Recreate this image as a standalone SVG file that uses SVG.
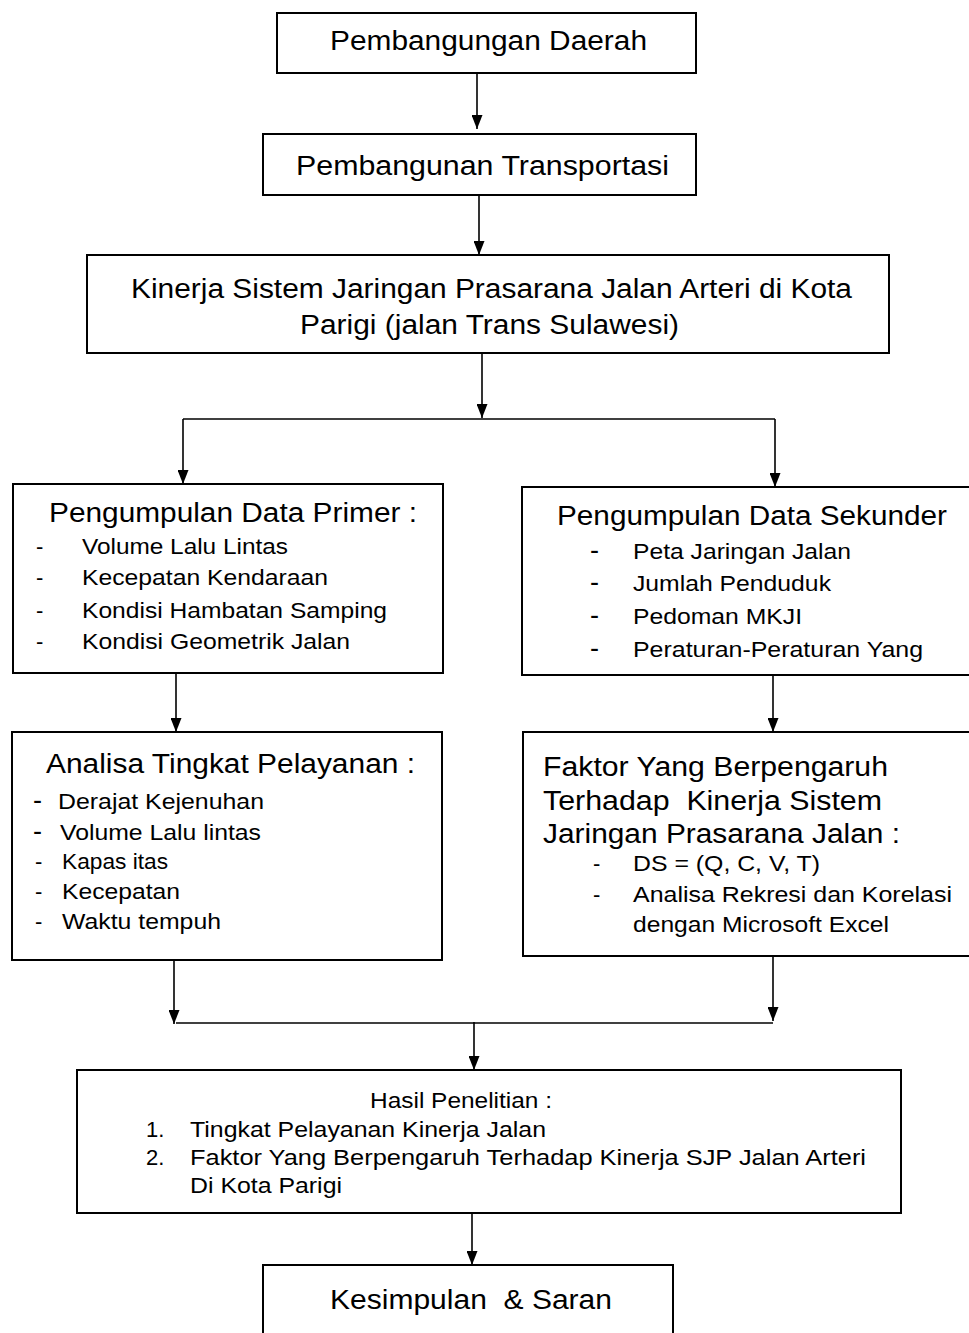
<svg xmlns="http://www.w3.org/2000/svg" width="969" height="1333" viewBox="0 0 969 1333">
<style>
  .box { fill: #ffffff; stroke: #000000; stroke-width: 2; }
  .con { fill: none; stroke: #000000; stroke-width: 1.6; }
  .t { font-family: "Liberation Sans", Arial, sans-serif; fill: #000000; }
  .big { font-size: 27px; }
  .sm { font-size: 22px; }
</style>
<defs>
  <marker id="arr" viewBox="0 0 14 11" markerWidth="14" markerHeight="11" refX="14" refY="5.5" orient="auto" markerUnits="userSpaceOnUse">
    <path d="M0,0 L14,5.5 L0,11 z" fill="#000000"/>
  </marker>
</defs>
<rect width="969" height="1333" fill="#ffffff"/>

<g id="connectors">
  <line class="con" x1="477" y1="73" x2="477" y2="129" marker-end="url(#arr)"/>
  <line class="con" x1="479" y1="195" x2="479" y2="255" marker-end="url(#arr)"/>
  <line class="con" x1="482" y1="353" x2="482" y2="418" marker-end="url(#arr)"/>
  <line class="con" x1="183" y1="419" x2="775" y2="419"/>
  <line class="con" x1="183" y1="419" x2="183" y2="484" marker-end="url(#arr)"/>
  <line class="con" x1="775" y1="419" x2="775" y2="487" marker-end="url(#arr)"/>
  <line class="con" x1="176" y1="673" x2="176" y2="732" marker-end="url(#arr)"/>
  <line class="con" x1="773" y1="675" x2="773" y2="732" marker-end="url(#arr)"/>
  <line class="con" x1="174" y1="960" x2="174" y2="1024" marker-end="url(#arr)"/>
  <line class="con" x1="773" y1="956" x2="773" y2="1021" marker-end="url(#arr)"/>
  <line class="con" x1="176" y1="1023" x2="773" y2="1023"/>
  <line class="con" x1="474" y1="1022" x2="474" y2="1070" marker-end="url(#arr)"/>
  <line class="con" x1="472" y1="1213" x2="472" y2="1265" marker-end="url(#arr)"/>
</g>

<g id="n1">
  <rect class="box" x="277" y="13" width="419" height="60"/>
  <text class="t big" x="330" y="50" textLength="317" lengthAdjust="spacingAndGlyphs">Pembangungan Daerah</text>
</g>

<g id="n2">
  <rect class="box" x="263" y="134" width="433" height="61"/>
  <text class="t big" x="296" y="175" textLength="373" lengthAdjust="spacingAndGlyphs">Pembangunan Transportasi</text>
</g>

<g id="n3">
  <rect class="box" x="87" y="255" width="802" height="98"/>
  <text class="t big" x="131" y="298" textLength="721" lengthAdjust="spacingAndGlyphs">Kinerja Sistem Jaringan Prasarana Jalan Arteri di Kota</text>
  <text class="t big" x="300" y="334" textLength="379" lengthAdjust="spacingAndGlyphs">Parigi (jalan Trans Sulawesi)</text>
</g>

<g id="n4">
  <rect class="box" x="13" y="484" width="430" height="189"/>
  <text class="t big" x="49" y="522" textLength="368" lengthAdjust="spacingAndGlyphs">Pengumpulan Data Primer :</text>
  <text class="t sm" x="36" y="554">-</text>
  <text class="t sm" x="82" y="554" textLength="206" lengthAdjust="spacingAndGlyphs">Volume Lalu Lintas</text>
  <text class="t sm" x="36" y="585">-</text>
  <text class="t sm" x="82" y="585" textLength="246" lengthAdjust="spacingAndGlyphs">Kecepatan Kendaraan</text>
  <text class="t sm" x="36" y="618">-</text>
  <text class="t sm" x="82" y="618" textLength="305" lengthAdjust="spacingAndGlyphs">Kondisi Hambatan Samping</text>
  <text class="t sm" x="36" y="649">-</text>
  <text class="t sm" x="82" y="649" textLength="268" lengthAdjust="spacingAndGlyphs">Kondisi Geometrik Jalan</text>
</g>

<g id="n5">
  <rect class="box" x="522" y="487" width="460" height="188"/>
  <text class="t big" x="557" y="525" textLength="390" lengthAdjust="spacingAndGlyphs">Pengumpulan Data Sekunder</text>
  <text class="t big" x="590" y="559">-</text>
  <text class="t sm" x="633" y="559" textLength="218" lengthAdjust="spacingAndGlyphs">Peta Jaringan Jalan</text>
  <text class="t big" x="590" y="591">-</text>
  <text class="t sm" x="633" y="591" textLength="198" lengthAdjust="spacingAndGlyphs">Jumlah Penduduk</text>
  <text class="t big" x="590" y="624">-</text>
  <text class="t sm" x="633" y="624" textLength="169" lengthAdjust="spacingAndGlyphs">Pedoman MKJI</text>
  <text class="t big" x="590" y="657">-</text>
  <text class="t sm" x="633" y="657" textLength="290" lengthAdjust="spacingAndGlyphs">Peraturan-Peraturan Yang</text>
</g>

<g id="n6">
  <rect class="box" x="12" y="732" width="430" height="228"/>
  <text class="t big" x="46" y="773" textLength="369" lengthAdjust="spacingAndGlyphs">Analisa Tingkat Pelayanan :</text>
  <text class="t big" x="33" y="809">-</text>
  <text class="t sm" x="58" y="809" textLength="206" lengthAdjust="spacingAndGlyphs">Derajat Kejenuhan</text>
  <text class="t big" x="33" y="840">-</text>
  <text class="t sm" x="60" y="840" textLength="201" lengthAdjust="spacingAndGlyphs">Volume Lalu lintas</text>
  <text class="t sm" x="35" y="869">-</text>
  <text class="t sm" x="62" y="869" textLength="106" lengthAdjust="spacingAndGlyphs">Kapas itas</text>
  <text class="t sm" x="35" y="899">-</text>
  <text class="t sm" x="62" y="899" textLength="118" lengthAdjust="spacingAndGlyphs">Kecepatan</text>
  <text class="t sm" x="35" y="929">-</text>
  <text class="t sm" x="62" y="929" textLength="159" lengthAdjust="spacingAndGlyphs">Waktu tempuh</text>
</g>

<g id="n7">
  <rect class="box" x="523" y="732" width="460" height="224"/>
  <text class="t big" x="543" y="776" textLength="345" lengthAdjust="spacingAndGlyphs">Faktor Yang Berpengaruh</text>
  <text class="t big" x="543" y="810" textLength="339" lengthAdjust="spacingAndGlyphs" xml:space="preserve">Terhadap  Kinerja Sistem</text>
  <text class="t big" x="543" y="843" textLength="357" lengthAdjust="spacingAndGlyphs">Jaringan Prasarana Jalan :</text>
  <text class="t sm" x="593" y="871">-</text>
  <text class="t sm" x="633" y="871" textLength="187" lengthAdjust="spacingAndGlyphs">DS = (Q, C, V, T)</text>
  <text class="t sm" x="593" y="902">-</text>
  <text class="t sm" x="633" y="902" textLength="319" lengthAdjust="spacingAndGlyphs">Analisa Rekresi dan Korelasi</text>
  <text class="t sm" x="633" y="932" textLength="256" lengthAdjust="spacingAndGlyphs">dengan Microsoft Excel</text>
</g>

<g id="n8">
  <rect class="box" x="77" y="1070" width="824" height="143"/>
  <text class="t sm" x="370" y="1108" textLength="182" lengthAdjust="spacingAndGlyphs">Hasil Penelitian :</text>
  <text class="t sm" x="146" y="1137">1.</text>
  <text class="t sm" x="190" y="1137" textLength="356" lengthAdjust="spacingAndGlyphs">Tingkat Pelayanan Kinerja Jalan</text>
  <text class="t sm" x="146" y="1165">2.</text>
  <text class="t sm" x="190" y="1165" textLength="676" lengthAdjust="spacingAndGlyphs">Faktor Yang Berpengaruh Terhadap Kinerja SJP Jalan Arteri</text>
  <text class="t sm" x="190" y="1193" textLength="152" lengthAdjust="spacingAndGlyphs">Di Kota Parigi</text>
</g>

<g id="n9">
  <rect class="box" x="263" y="1265" width="410" height="100"/>
  <text class="t big" x="330" y="1309" textLength="282" lengthAdjust="spacingAndGlyphs" xml:space="preserve">Kesimpulan  &amp; Saran</text>
</g>
</svg>
